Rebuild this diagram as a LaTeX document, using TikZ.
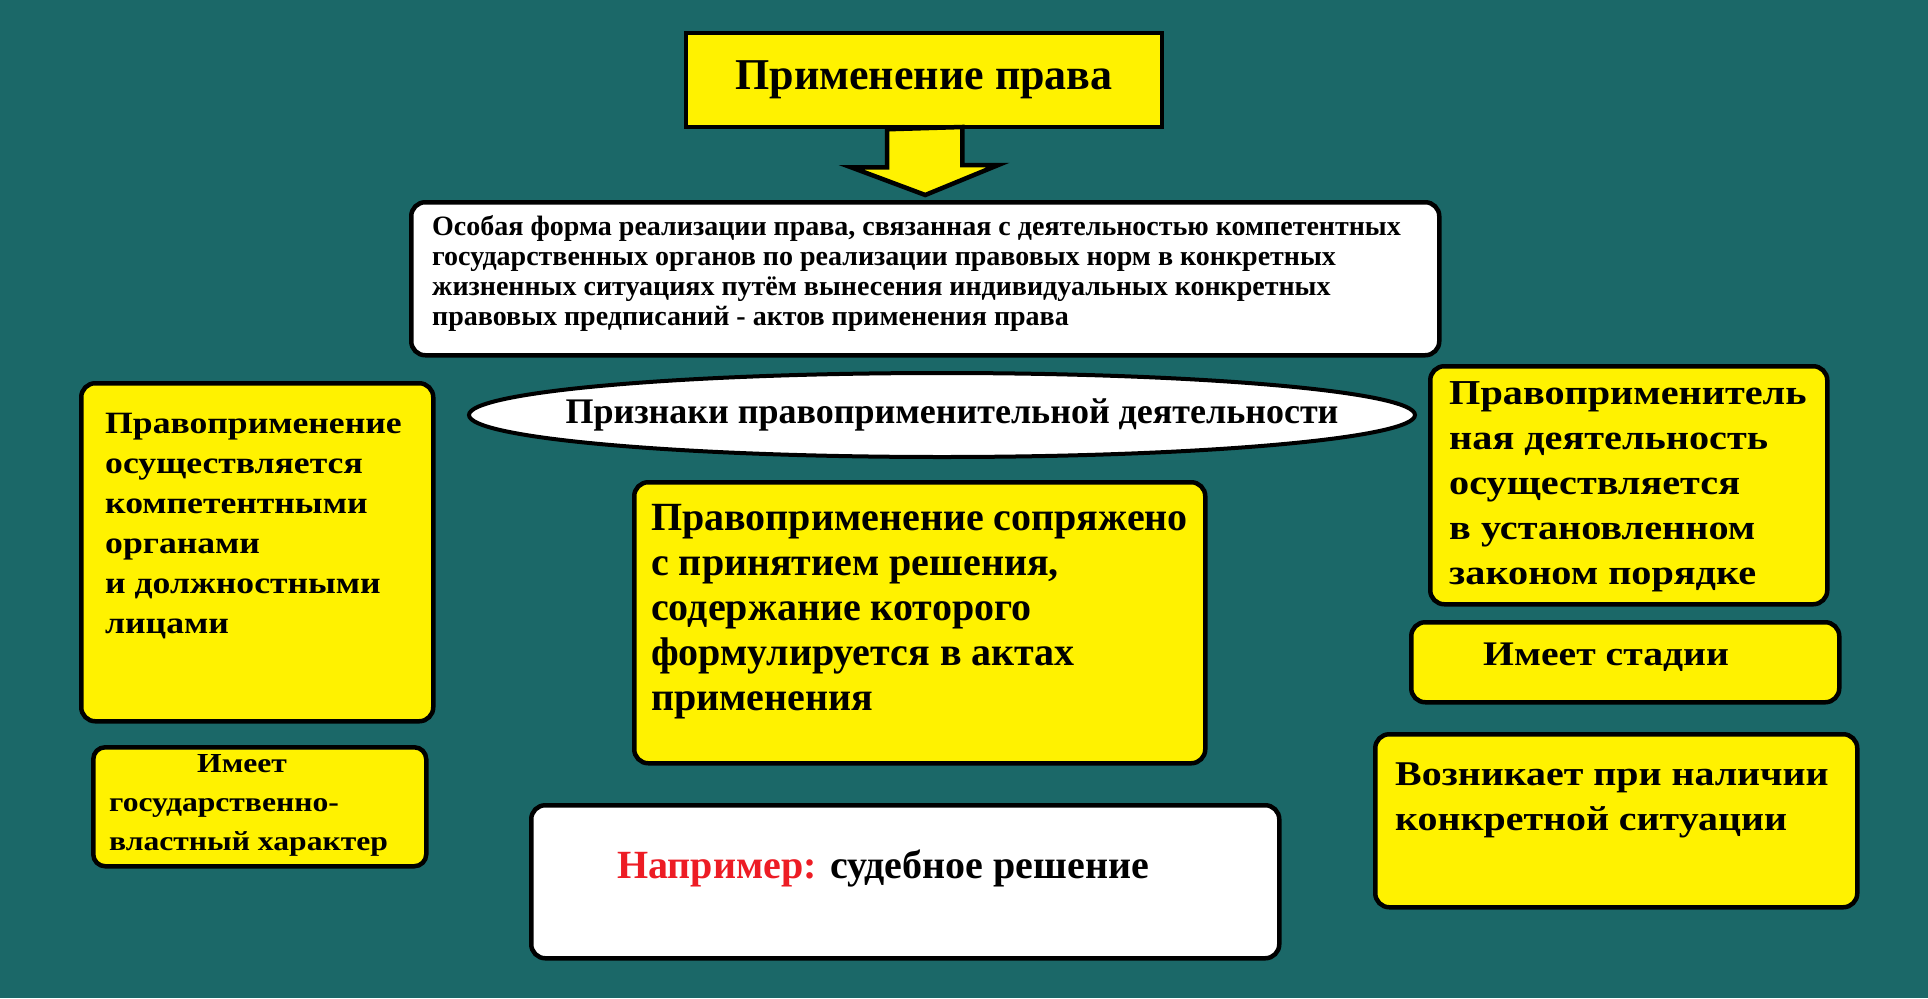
\documentclass[tikz,border=0pt]{standalone}
\usepackage{fontspec}
\setmainfont{Liberation Serif}
\newfontfamily\widefont[FakeStretch=1.15]{Liberation Serif}
\usetikzlibrary{positioning, shapes.geometric, calc}
\definecolor{bgteal}{HTML}{1B6868}
\definecolor{signYellow}{HTML}{FFF200}
\definecolor{noteRed}{HTML}{ED1C24}
\newcommand{\plainbold}[2]{\bfseries\fontsize{#1}{#2}\selectfont}
\newcommand{\widebold}[2]{\widefont\bfseries\fontsize{#1}{#2}\selectfont}

\begin{document}
\begin{tikzpicture}[x=1bp, y=-1bp,
    ybox/.style 2 args={draw, line width=4.5bp, fill=signYellow, rounded corners=14bp,
                 minimum width=#1, minimum height=#2, anchor=north west, inner sep=0pt},
    wbox/.style 2 args={ybox={#1}{#2}, fill=white},
    btext/.style={anchor=base west, inner sep=0pt, align=left},
    blockarrow/.style={draw, line width=4.5bp, fill=signYellow, line join=miter}
  ]
    \fill[bgteal] (0,0) rectangle (1928,998);
    \useasboundingbox (0,0) rectangle (1928,998);

    % title and definition (text nodes sit on the baseline of their last line)
    \node[draw, line width=4.5bp, fill=signYellow, minimum width=476bp,
          minimum height=94bp, font=\plainbold{44bp}{50bp}] (title) at (924,80)
          {Применение права};
    \node[wbox={1028bp}{153bp}] (def) at (409,200) {};
    \node[btext, font=\plainbold{28bp}{30bp}] (deftext)
          at ([shift={(23,125)}]def.north west)
          {Особая форма реализации права, связанная с деятельностью компетентных\\
           государственных органов по реализации правовых норм в конкретных\\
           жизненных ситуациях путём вынесения индивидуальных конкретных\\
           правовых предписаний - актов применения права};
    \draw[blockarrow] ([xshift=-37bp]title.south) -- ++(0,38) -- ++(-36,0)
          -- ([yshift=5bp]def.north) -- ++(73,-30) -- ++(-36,0) -- ++(0,-38) -- cycle;

    % features
    \node[ellipse, draw, line width=4bp, fill=white, minimum width=946bp,
          minimum height=84bp, inner sep=0pt] (signs) at (942,415) {};
    \node[anchor=base, inner sep=0pt, font=\plainbold{36bp}{40bp}] (signstext)
          at (952,423) {Признаки правоприменительной деятельности};

    % left column
    \node[ybox={352bp}{338bp}] (organs) at (79,381) {};
    \node[btext, font=\widebold{31bp}{40bp}] (organstext)
          at ([shift={(26,252)}]organs.north west)
          {Правоприменение\\ осуществляется\\ компетентными\\ органами\\
           и должностными\\ лицами};
    \node[ybox={333bp}{119bp}, rounded corners=12bp] (power) at (91,745) {};
    \node[btext, font=\widebold{27.5bp}{39bp}] (powertext)
          at ([shift={(18,105)}]power.north west)
          {\hspace*{88bp}Имеет\\ государственно-\\ властный характер};

    % middle column
    \node[ybox={571bp}{281bp}] (decision) at (632,480) {};
    \node[btext, font=\plainbold{40bp}{45bp}] (decisiontext)
          at ([shift={(19,230)}]decision.north west)
          {Правоприменение сопряжено\\ с принятием решения,\\ содержание которого\\
           формулируется в актах\\ применения};
    \node[wbox={748bp}{153bp}] (example) at (529,803) {};
    \node[btext, font=\plainbold{40bp}{45bp}] (exampletext)
          at ([shift={(88,75)}]example.north west)
          {\textcolor{noteRed}{Например:} судебное решение};

    % right column
    \node[ybox={397bp}{238bp}] (order) at (1428,364) {};
    \node[btext, font=\widebold{35bp}{45bp}] (ordertext)
          at ([shift={(21,220)}]order.north west)
          {Правоприменитель\\ ная деятельность\\ осуществляется\\ в установленном\\
           законом порядке};
    \node[ybox={428bp}{80bp}] (stages) at (1409,620) {};
    \node[btext, font=\widebold{34.5bp}{40bp}] (stagestext)
          at ([shift={(74,45)}]stages.north west) {Имеет стадии};
    \node[ybox={482bp}{173bp}] (situation) at (1373,732) {};
    \node[btext, font=\widebold{34.7bp}{45bp}] (situationtext)
          at ([shift={(22,98)}]situation.north west)
          {Возникает при наличии\\ конкретной ситуации};
\end{tikzpicture}
\end{document}
